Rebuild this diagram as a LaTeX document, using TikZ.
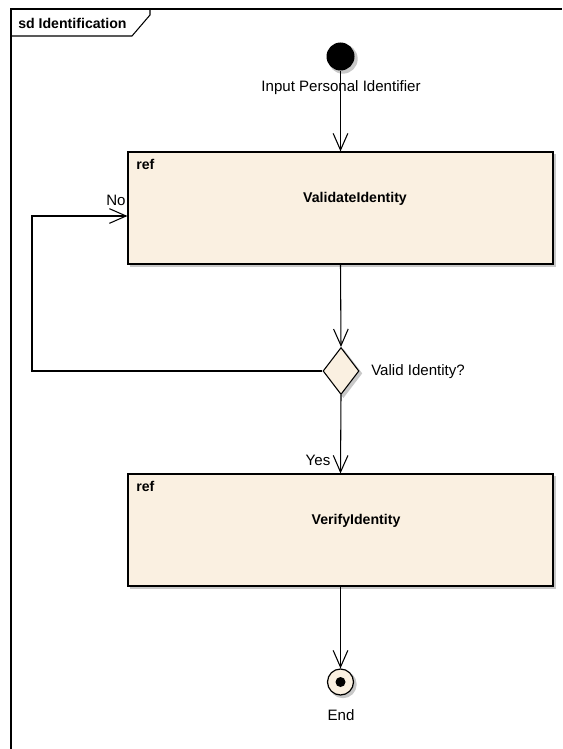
\documentclass[tikz,border=0pt]{standalone}
\usepackage{fontspec}
\setmainfont{Liberation Sans}
\usetikzlibrary{shapes.geometric,arrows.meta}
\definecolor{refFill}{HTML}{FAF0E1}
\definecolor{shadowGrey}{HTML}{C8C8C8}
\begin{document}
\begin{tikzpicture}[x=0.75pt,y=-0.75pt,
  txt/.style={font=\fontsize{11.3pt}{12pt}\selectfont, inner sep=0pt},
  boldtxt/.style={txt, font=\fontsize{10.6pt}{12pt}\selectfont\bfseries},
  flow/.style={draw=black, line width=0.8pt, -{Straight Barb[length=12.5pt,width=11pt,line width=0.8pt]}},
  refbox/.style={draw=black, line width=0.9pt, fill=refFill, minimum width=318.75pt, minimum height=84pt, inner sep=0pt},
  decision/.style={diamond, draw=black, line width=0.8pt, fill=refFill, minimum width=27pt, minimum height=35.25pt, inner sep=0pt, aspect=0.77},
  shadowed/.style={preaction={draw=shadowGrey, fill=shadowGrey, line width=1.2pt, transform canvas={shift={(1.8pt,-1.8pt)}}}}
]
\useasboundingbox (0,0) rectangle (562,749);
\fill[white] (0,0) rectangle (562,749);

% frame of the interaction
\draw[line width=1pt] (11,749) -- (11,9) -- (562,9);
\draw[line width=0.8pt] (11,36) -- (132,36) -- (150,15) -- (150,9);
\node[boldtxt, anchor=west] (title) at (18,23) {sd Identification};

% initial node
\node[circle, fill=black, minimum size=21pt, inner sep=0pt, shadowed] (start) at (340.5,56.5) {};
\node[txt] (startlbl) at (341,88) {Input Personal Identifier};

% first interaction use
\node[refbox, shadowed] (validate) at (340.5,208) {};
\node[boldtxt, anchor=north west] (ref1) at (136,159) {ref};
\node[boldtxt] (validatelbl) at (355,199) {ValidateIdentity};

% decision
\node[decision, shadowed] (check) at (341,371) {};
\node[txt, anchor=west] (checklbl) at (371,372) {Valid Identity?};

% second interaction use
\node[refbox, shadowed] (verify) at (340.5,530) {};
\node[boldtxt, anchor=north west] (ref2) at (136,481) {ref};
\node[boldtxt] (verifylbl) at (356,521) {VerifyIdentity};

% final node
\node[circle, draw=black, line width=0.9pt, fill=refFill, minimum size=19.5pt, inner sep=0pt, shadowed] (finish) at (340.5,682) {};
\node[circle, fill=black, minimum size=7.5pt, inner sep=0pt] (finishdot) at (finish.center) {};
\node[txt] (finishlbl) at (341,715) {End};

% control flows
\draw[flow] (start.south) -- (validate.north);
\draw[flow] (validate.south) -- (check.north);
\draw[flow] (check.south) -- (verify.north);
\node[txt] (yes) at (318,460) {Yes};
\coordinate (loopA) at (32,371);
\coordinate (loopB) at (32,216);
\draw[flow] (check.west) -- (loopA) -- (loopB) -- (validate.west |- loopB);
\node[txt] (no) at (116,200) {No};
\draw[flow] (verify.south) -- (finish.north);
\end{tikzpicture}
\end{document}
